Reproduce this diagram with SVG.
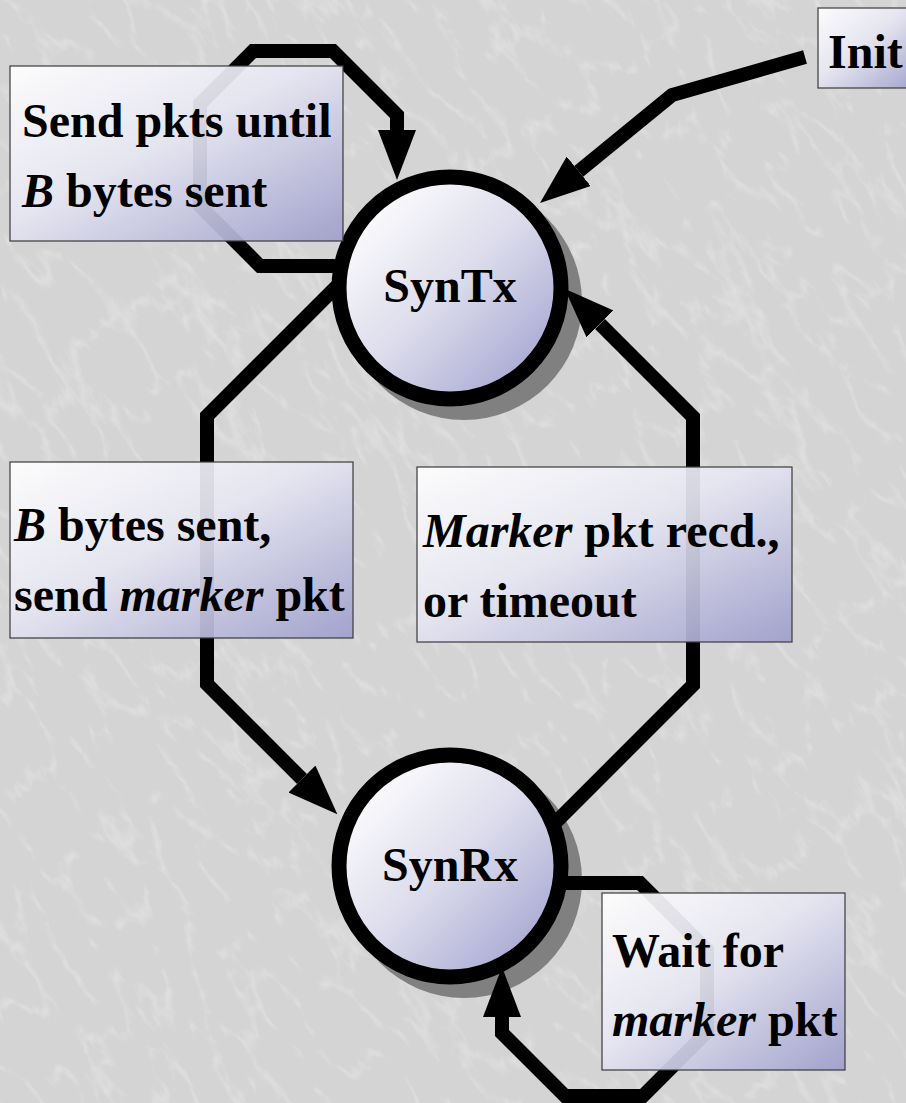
<svg xmlns="http://www.w3.org/2000/svg" width="906" height="1103" viewBox="0 0 906 1103">
<defs>
<style>
.lbl{font-weight:bold;font-size:48px;fill:#000}
.it{font-style:italic}
.box{fill:url(#boxg);stroke:#3a3a3a;stroke-width:1.2;fill-opacity:0.93}
.ring{fill:url(#circg);stroke:#000;stroke-width:15}
.shadow{fill:#808080}
.conn{fill:none;stroke:#000;stroke-width:14;stroke-linejoin:miter;stroke-miterlimit:10}
</style>
<linearGradient id="boxg" x1="0" y1="0" x2="1" y2="1">
<stop offset="0" stop-color="#ffffff"/>
<stop offset="0.45" stop-color="#e6e6f2"/>
<stop offset="1" stop-color="#9e9ecc"/>
</linearGradient>
<linearGradient id="circg" x1="0.1" y1="0.1" x2="0.9" y2="0.9">
<stop offset="0" stop-color="#ffffff"/>
<stop offset="0.5" stop-color="#dcdcec"/>
<stop offset="1" stop-color="#a6a6d2"/>
</linearGradient>
<marker id="ah" markerUnits="userSpaceOnUse" markerWidth="50" markerHeight="38" viewBox="0 0 50 38" refX="0" refY="19" orient="auto">
<path d="M0,0 L50,19 L0,38 Z" fill="#000"/>
</marker>
<filter id="marble" x="0" y="0" width="100%" height="100%">
<feTurbulence type="turbulence" baseFrequency="0.03 0.012" numOctaves="4" seed="11"/>
<feColorMatrix type="matrix" values="0 0 0 0 1  0 0 0 0 1  0 0 0 0 1  -3 0 0 0 0.7"/>
</filter>
</defs>
<rect x="0" y="0" width="906" height="1103" fill="#d4d4d4"/>
<rect x="-300" y="-300" width="1500" height="1700" filter="url(#marble)" opacity="0.4" transform="rotate(-35 453 551)"/>

<g id="shadows">
<circle class="shadow" cx="464" cy="302" r="118"/>
<circle class="shadow" cx="464" cy="880" r="118"/>
</g>

<g id="connectors">
<path class="conn" d="M360 266 L260 266 L200 206 L200 104 L253 51 L333 51 L397 115 L397 130" marker-end="url(#ah)"/>
<path class="conn" d="M805 57 L672 95 L578.7 171.3" marker-end="url(#ah)"/>
<path class="conn" d="M360 263 L207 416 L207 684 L302 779" marker-end="url(#ah)"/>
<path class="conn" d="M540 838 L693 685 L693 417 L600 324" marker-end="url(#ah)"/>
<path class="conn" d="M540 883 L640 883 L707 950 L707 1032 L643 1096 L565 1096 L502 1033 L502 1017" marker-end="url(#ah)"/>
</g>

<g font-family="'Liberation Serif', 'Times New Roman', 'DejaVu Serif', serif">
<g id="node-syntx">
<circle class="ring" cx="450" cy="288" r="111"/>
<text class="lbl" x="450" y="302" text-anchor="middle">SynTx</text>
</g>

<g id="node-synrx">
<circle class="ring" cx="450" cy="866" r="111"/>
<text class="lbl" x="450" y="881" text-anchor="middle">SynRx</text>
</g>

<g id="label-send">
<rect class="box" x="10" y="66" width="333" height="175"/>
<text class="lbl" x="22" y="137">Send pkts until</text>
<text class="lbl" x="22" y="207"><tspan class="it">B</tspan> bytes sent</text>
</g>

<g id="node-init">
<rect class="box" x="818" y="8" width="100" height="80"/>
<text class="lbl" x="828" y="68">Init</text>
</g>

<g id="label-bsent">
<rect class="box" x="10" y="462" width="343" height="176"/>
<text class="lbl" x="14" y="541"><tspan class="it">B</tspan> bytes sent,</text>
<text class="lbl" x="14" y="611">send <tspan class="it">marker</tspan> pkt</text>
</g>

<g id="label-marker">
<rect class="box" x="417" y="467" width="375" height="175"/>
<text class="lbl" x="423" y="547"><tspan class="it">Marker</tspan> pkt recd.,</text>
<text class="lbl" x="423" y="617">or timeout</text>
</g>

<g id="label-wait">
<rect class="box" x="602" y="893" width="243" height="177"/>
<text class="lbl" x="612" y="967">Wait for</text>
<text class="lbl" x="612" y="1036"><tspan class="it">marker</tspan> pkt</text>
</g>
</g>
</svg>
